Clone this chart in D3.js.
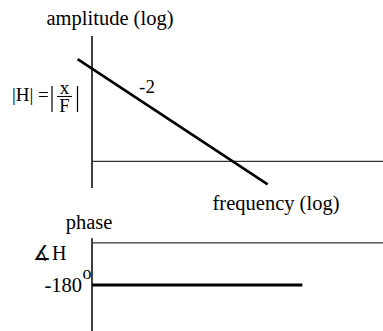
<!DOCTYPE html>
<html>
<head>
<meta charset="utf-8">
<script src="https://cdn.jsdelivr.net/npm/d3@7"></script>
<style>
  html, body { margin: 0; padding: 0; background: #fff; }
  svg { display: block; }
  text { font-family: "Liberation Serif", "Times New Roman", serif; fill: #000; }
</style>
</head>
<body>
<svg id="chart" width="383" height="331"></svg>
<script>
// Asymptotic Bode sketch of a double pole: |H| falls with slope -2, phase sits at -180°
const freqDomain = [0.06, 20];          // log frequency axis extent
const magDomain = [0.2, 2000];          // log amplitude axis extent
const phaseDomain = [-380, 20];         // phase axis extent (degrees)

const magFreq = [0.045, 2];             // amplitude asymptote endpoints
const magValues = [494, 0.25];          // |H| at those frequencies (slope -2)
const unityFreq = [0.06, 20];           // |H| = 1 reference line
const unityMag = [1, 1];

const phaseFreq = [0.06, 4];            // phase asymptote
const phaseValues = [-180, -180];
const zeroFreq = [0.06, 20];            // 0° reference line
const zeroPhase = [0, 0];

const slopeLabel = "-2";
const phaseTick = "-180";

const svg = d3.select("#chart");

const x = d3.scaleLog().domain(freqDomain).range([92, 383]);
const yMag = d3.scaleLog().domain(magDomain).range([188, 36]);
const yPh = d3.scaleLinear().domain(phaseDomain).range([331.7, 238.3]);

const lineMag = d3.line().x(d => x(d[0])).y(d => yMag(d[1]));
const linePh = d3.line().x(d => x(d[0])).y(d => yPh(d[1]));

// ---------- amplitude panel ----------
svg.append("line")
  .attr("x1", x(freqDomain[0])).attr("x2", x(freqDomain[0]))
  .attr("y1", yMag(magDomain[1])).attr("y2", yMag(magDomain[0]))
  .attr("stroke", "#000").attr("stroke-width", 1.5);

svg.append("path")
  .attr("d", lineMag(d3.zip(unityFreq, unityMag)))
  .attr("stroke", "#333").attr("stroke-width", 1.2).attr("fill", "none");

svg.append("path")
  .attr("d", lineMag(d3.zip(magFreq, magValues)))
  .attr("stroke", "#000").attr("stroke-width", 2.6).attr("fill", "none");

svg.append("text").attr("x", 110).attr("y", 25)
  .attr("text-anchor", "middle").attr("font-size", 20.5).text("amplitude (log)");

svg.append("text").attr("x", 147).attr("y", 93)
  .attr("text-anchor", "middle").attr("font-size", 19).text(slopeLabel);

svg.append("text").attr("x", 276).attr("y", 210)
  .attr("text-anchor", "middle").attr("font-size", 20.5).text("frequency (log)");

// |H| = |x / F|
const eq = svg.append("g");
eq.append("text").attr("x", 12).attr("y", 101).attr("font-size", 19).text("|H| =");
eq.append("line").attr("x1", 52).attr("x2", 52).attr("y1", 86).attr("y2", 112)
  .attr("stroke", "#000").attr("stroke-width", 1.2);
eq.append("line").attr("x1", 77.5).attr("x2", 77.5).attr("y1", 86).attr("y2", 112)
  .attr("stroke", "#000").attr("stroke-width", 1.2);
eq.append("line").attr("x1", 57).attr("x2", 72).attr("y1", 96.5).attr("y2", 96.5)
  .attr("stroke", "#000").attr("stroke-width", 1);
eq.append("text").attr("x", 64.5).attr("y", 94).attr("text-anchor", "middle")
  .attr("font-size", 19).text("x");
eq.append("text").attr("x", 64.5).attr("y", 112).attr("text-anchor", "middle")
  .attr("font-size", 18.5).text("F");

// ---------- phase panel ----------
svg.append("line")
  .attr("x1", x(freqDomain[0])).attr("x2", x(freqDomain[0]))
  .attr("y1", yPh(phaseDomain[1])).attr("y2", yPh(phaseDomain[0]))
  .attr("stroke", "#000").attr("stroke-width", 1.5);

svg.append("path")
  .attr("d", linePh(d3.zip(zeroFreq, zeroPhase)))
  .attr("stroke", "#333").attr("stroke-width", 1.2).attr("fill", "none");

svg.append("path")
  .attr("d", linePh(d3.zip(phaseFreq, phaseValues)))
  .attr("stroke", "#000").attr("stroke-width", 3).attr("fill", "none");

svg.append("text").attr("x", 89).attr("y", 229)
  .attr("text-anchor", "middle").attr("font-size", 20.5).text("phase");

svg.append("text").attr("x", 33).attr("y", 260).attr("font-size", 20)
  .attr("font-weight", 200)
  .style("font-family", "'DejaVu Sans', sans-serif").text("∡");
svg.append("text").attr("x", 52).attr("y", 260).attr("font-size", 20).text("H");

svg.append("text").attr("x", 82).attr("y", yPh(phaseValues[0]) + 6.5)
  .attr("text-anchor", "end").attr("font-size", 20.5).text(phaseTick);
svg.append("text").attr("x", 82.5).attr("y", 279)
  .attr("font-size", 18).text("o");
</script>
</body>
</html>
